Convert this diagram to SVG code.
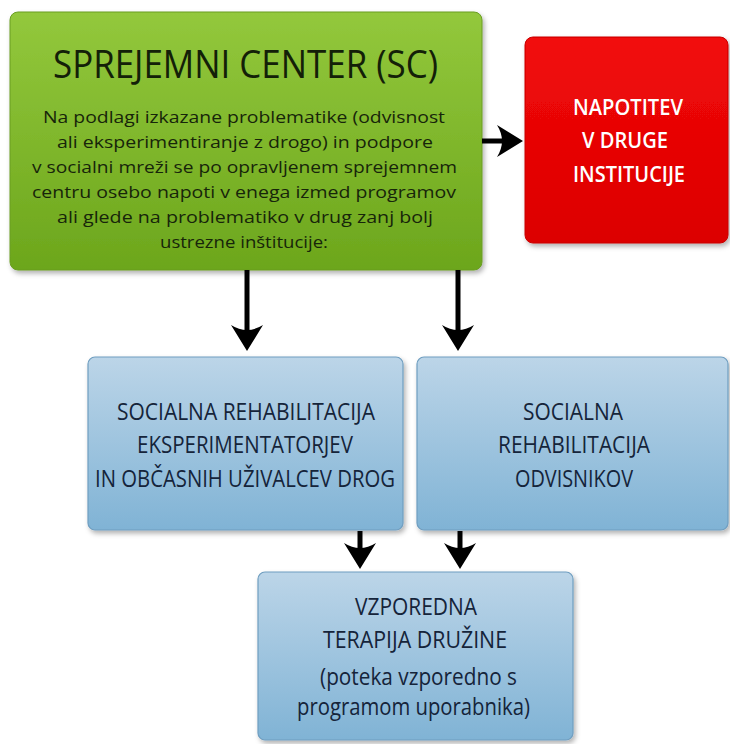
<svg xmlns="http://www.w3.org/2000/svg" width="730" height="744" viewBox="0 0 730 744">
<defs>
<linearGradient id="gGreen" x1="0" y1="0" x2="0" y2="1">
<stop offset="0" stop-color="#93c83c"/>
<stop offset="1" stop-color="#6ca61c"/>
</linearGradient>
<linearGradient id="gRed" x1="0" y1="0" x2="0" y2="1">
<stop offset="0" stop-color="#f20a0a"/>
<stop offset="1" stop-color="#dc0000"/>
</linearGradient>
<linearGradient id="gBlue" x1="0" y1="0" x2="0" y2="1">
<stop offset="0" stop-color="#bcd5e8"/>
<stop offset="1" stop-color="#80b3d5"/>
</linearGradient>
<filter id="sh" x="-10%" y="-10%" width="125%" height="125%">
<feDropShadow dx="2" dy="3" stdDeviation="2.5" flood-color="#000" flood-opacity="0.3"/>
</filter>
<marker id="ah" viewBox="0 0 26 34" refX="12" refY="17" markerWidth="26" markerHeight="34" markerUnits="userSpaceOnUse" orient="auto">
<path d="M26,17 L0,1 Q10,17 0,33 Z" fill="#000"/>
</marker>
<style>
.box-g{fill:url(#gGreen);stroke:#6a9d22;stroke-width:1;filter:url(#sh)}
.box-r{fill:url(#gRed);stroke:#c80000;stroke-width:1;filter:url(#sh)}
.box-b{fill:url(#gBlue);stroke:#6f9ec0;stroke-width:1.2;filter:url(#sh)}
text{font-family:"Open Sans","DejaVu Sans",sans-serif;text-anchor:middle}
.title{font-size:39px;fill:#132008}
.body{font-size:17px;fill:#17250a}
.red{font-size:22px;fill:#fff;font-weight:600}
.blue{font-size:24px;fill:#15243a}
.conn{stroke:#000;stroke-width:5;fill:none;marker-end:url(#ah)}
</style>
</defs>
<rect width="730" height="744" fill="#fff"/>

<g id="sc">
<rect class="box-g" x="10" y="12" width="472" height="258" rx="8"/>
<text class="title" x="245.5" y="78" textLength="385" lengthAdjust="spacingAndGlyphs">SPREJEMNI CENTER (SC)</text>
<text class="body" x="244" y="123" textLength="402" lengthAdjust="spacingAndGlyphs">Na podlagi izkazane problematike (odvisnost</text>
<text class="body" x="245" y="148" textLength="376" lengthAdjust="spacingAndGlyphs">ali eksperimentiranje z drogo) in podpore</text>
<text class="body" x="244.5" y="173" textLength="425" lengthAdjust="spacingAndGlyphs">v socialni mreži se po opravljenem sprejemnem</text>
<text class="body" x="244" y="198" textLength="424" lengthAdjust="spacingAndGlyphs">centru osebo napoti v enega izmed programov</text>
<text class="body" x="245" y="223" textLength="376" lengthAdjust="spacingAndGlyphs">ali glede na problematiko v drug zanj bolj</text>
<text class="body" x="244" y="248" textLength="168" lengthAdjust="spacingAndGlyphs">ustrezne inštitucije:</text>
</g>

<g id="napotitev">
<rect class="box-r" x="525" y="37" width="203" height="206" rx="8"/>
<text class="red" x="628" y="115" textLength="110" lengthAdjust="spacingAndGlyphs">NAPOTITEV</text>
<text class="red" x="625" y="148" textLength="86" lengthAdjust="spacingAndGlyphs">V DRUGE</text>
<text class="red" x="629" y="182" textLength="112" lengthAdjust="spacingAndGlyphs">INSTITUCIJE</text>
</g>

<g id="eksperimentatorji">
<rect class="box-b" x="88" y="357" width="315" height="173" rx="7"/>
<text class="blue" x="246" y="420" textLength="258" lengthAdjust="spacingAndGlyphs">SOCIALNA REHABILITACIJA</text>
<text class="blue" x="245" y="453" textLength="216" lengthAdjust="spacingAndGlyphs">EKSPERIMENTATORJEV</text>
<text class="blue" x="245" y="487" textLength="300" lengthAdjust="spacingAndGlyphs">IN OBČASNIH UŽIVALCEV DROG</text>
</g>

<g id="odvisniki">
<rect class="box-b" x="417" y="357" width="311" height="173" rx="7"/>
<text class="blue" x="573" y="420" textLength="100" lengthAdjust="spacingAndGlyphs">SOCIALNA</text>
<text class="blue" x="574" y="453" textLength="152" lengthAdjust="spacingAndGlyphs">REHABILITACIJA</text>
<text class="blue" x="574" y="487" textLength="118" lengthAdjust="spacingAndGlyphs">ODVISNIKOV</text>
</g>

<g id="druzina">
<rect class="box-b" x="258" y="572" width="315" height="168" rx="7"/>
<text class="blue" x="416" y="615" textLength="122" lengthAdjust="spacingAndGlyphs">VZPOREDNA</text>
<text class="blue" x="415" y="648" textLength="184" lengthAdjust="spacingAndGlyphs">TERAPIJA DRUŽINE</text>
<text class="blue" x="418.5" y="685" textLength="197" lengthAdjust="spacingAndGlyphs">(poteka vzporedno s</text>
<text class="blue" x="413.5" y="715" textLength="233" lengthAdjust="spacingAndGlyphs">programom uporabnika)</text>
</g>

<g id="connectors">
<line class="conn" x1="482" y1="141" x2="509" y2="141"/>
<line class="conn" x1="247" y1="270" x2="247" y2="337"/>
<line class="conn" x1="458" y1="270" x2="458" y2="337"/>
<line class="conn" x1="360" y1="531" x2="360" y2="555"/>
<line class="conn" x1="460" y1="531" x2="460" y2="555"/>
</g>
</svg>
